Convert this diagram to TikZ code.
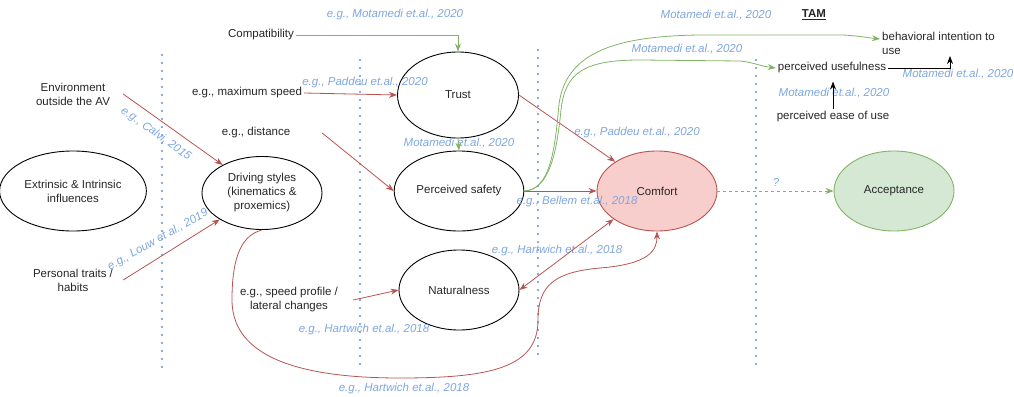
\documentclass[tikz,border=0pt]{standalone}
\usepackage{fontspec}
\setmainfont{Liberation Sans}
\usetikzlibrary{arrows.meta,shapes.geometric}
\definecolor{redline}{HTML}{B85450}
\definecolor{redfill}{HTML}{F8CECC}
\definecolor{greenline}{HTML}{82B366}
\definecolor{greenfill}{HTML}{D5E8D4}
\definecolor{cite}{HTML}{7EA6E0}
\definecolor{sep}{HTML}{5F8FD9}

\begin{document}
\begin{tikzpicture}[x=1pt, y=-1pt, font=\fontsize{11.5}{14}\selectfont, text=black!85,
    oval/.style={draw, ellipse, minimum width=120pt, minimum height=80pt, align=center, line width=0.9pt},
    lbl/.style={align=center, inner sep=2pt},
    ref/.style={text=cite, font=\fontsize{11.5}{14}\selectfont\itshape, inner sep=0pt},
    redarr/.style={draw=redline, line width=0.8pt, -{Stealth[length=8pt,width=6pt]}},
    greenarr/.style={draw=greenline, line width=0.8pt, -{Stealth[length=8pt,width=6pt]}},
    blackarr/.style={draw=black, line width=0.8pt, -{Stealth[length=8pt,width=6pt]}},
    sepline/.style={draw=sep, line width=2.3pt, line cap=round, dash pattern=on 0pt off 8pt}]
\useasboundingbox (0,0) rectangle (1014,396);

\draw[sepline] (162,55) -- (162,368);
\draw[sepline] (360,60) -- (360,368);
\draw[sepline] (538,50) -- (538,358);
\draw[sepline] (756,60) -- (756,368);

\node[oval] (extr) at (73,191) {Extrinsic \& Intrinsic\\influences};
\node[oval, minimum height=73pt] (drive) at (262,193) {Driving styles\\(kinematics \&\\proxemics)};
\node[oval, minimum width=121pt, minimum height=86pt] (trust) at (458,95) {Trust};
\node[oval] (safety) at (459,191) {Perceived safety};
\node[oval] (natural) at (459,290) {Naturalness};
\node[oval, draw=redline, fill=redfill] (comfort) at (657,191) {Comfort};
\node[oval, draw=greenline, fill=greenfill] (accept) at (894,191) {Acceptance};

\node[lbl, minimum width=100pt] (env) at (73,94) {Environment\\outside the AV};
\node[lbl, minimum width=100pt] (pers) at (73,280) {Personal traits /\\habits};
\node[lbl] (compat) at (261,35) {Compatibility};
\node[lbl] (maxspeed) at (247,93) {e.g., maximum speed};
\node[lbl, minimum width=132pt] (dist) at (256,133) {e.g., distance};
\node[lbl, minimum width=128pt] (profile) at (289,300) {e.g., speed profile /\\lateral changes};
\node[font=\fontsize{11.5}{14}\selectfont\bfseries, inner sep=0pt] (tam) at (814,15) {\underline{TAM}};
\node[lbl, align=left, anchor=north west] (intent) at (880,30) {behavioral intention to\\use};
\node[lbl] (useful) at (832,68) {perceived usefulness};
\node[lbl] (ease) at (833,117) {perceived ease of use};
\coordinate (intentin) at (880,39);
\coordinate (intentbot) at (950,56);

\node[ref, rotate=-35.5] (calvi) at (156,134) {e.g., Calvi, 2015};
\node[ref, rotate=29.5] (louw) at (158,240) {e.g., Louw et al., 2019};
\node[ref] (motcompat) at (395,15) {e.g., Motamedi et.al., 2020};
\node[ref] (padspeed) at (365,83) {e.g., Paddeu et.al., 2020};
\node[ref] (motsafety) at (459,143) {Motamedi et.al., 2020};
\node[ref] (padcomfort) at (637,133) {e.g., Paddeu et.al., 2020};
\node[ref] (bellem) at (577,202) {e.g., Bellem et.al., 2018};
\node[ref] (hartnat) at (557,251) {e.g., Hartwich et.al., 2018};
\node[ref] (hartprofile) at (364,330) {e.g., Hartwich et.al., 2018};
\node[ref] (hartdrive) at (404,389) {e.g., Hartwich et.al., 2018};
\node[ref] (motintent) at (716,15) {Motamedi et.al., 2020};
\node[ref] (motuseful) at (687,49) {Motamedi et.al., 2020};
\node[ref] (motright) at (958,74) {Motamedi et.al., 2020};
\node[ref] (motease) at (834,93) {Motamedi et.al., 2020};
\node[ref] (quest) at (776,182) {?};

\draw[redarr] (env.east) -- (drive);
\draw[redarr] (pers.east) -- (drive);
\draw[redarr] (maxspeed.east) -- (trust.west);
\draw[redarr] (dist.east) -- (safety.west);
\draw[redarr] (profile.east) -- (natural.west);
\draw[redarr] (trust.east) -- (comfort.145);
\draw[redarr] (safety.east) -- (comfort.west);
\draw[redarr, {Stealth[length=8pt,width=6pt]}-{Stealth[length=8pt,width=6pt]}] (natural.east) -- (comfort.213);
\draw[redarr] (drive.south) .. controls (238,236) and (232,265) .. (232,300)
    .. controls (232,365) and (320,378) .. (400,378)
    .. controls (490,378) and (538,368) .. (538,320)
    .. controls (538,285) and (555,272) .. (600,268)
    .. controls (650,264) and (657,250) .. (comfort.south);

\draw[greenarr] (compat.east) -| (trust.north);
\draw[greenarr] (trust.south) -- (safety.north);
\draw[greenarr] (safety.east) .. controls (550,190) and (557,150) .. (561,110)
    .. controls (565,72) and (585,60) .. (640,60) -- (740,61)
    .. controls (752,62) and (760,66) .. (useful.west);
\draw[greenarr] (safety.east) .. controls (550,190) and (555,150) .. (559,104)
    .. controls (566,55) and (610,36) .. (700,35) -- (843,35)
    .. controls (860,36) and (870,38) .. (intentin);
\draw[greenarr, dashed] (comfort.east) -- (accept.west);

\draw[blackarr, shorten >=6pt] (ease.north) -- (ease.north |- useful.south);
\draw[blackarr] (useful.east) -| (intentbot);
\end{tikzpicture}
\end{document}
